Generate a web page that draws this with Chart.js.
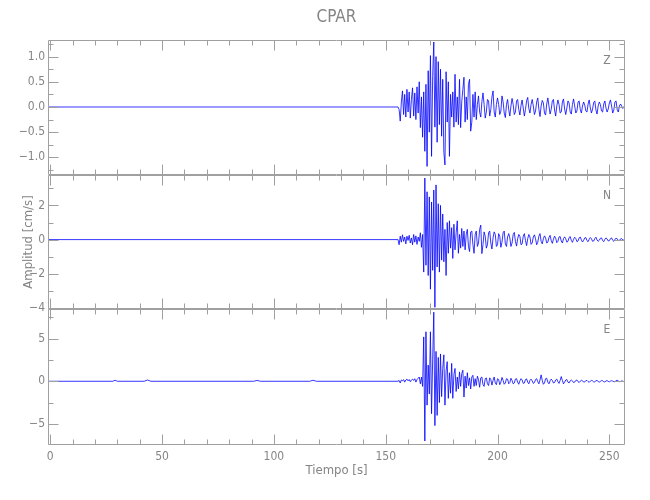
<!DOCTYPE html>
<html>
<head>
<meta charset="utf-8">
<title>CPAR</title>
<script src="https://cdn.jsdelivr.net/npm/chart.js@4.4.1/dist/chart.umd.min.js"></script>
<style>
  html, body { margin: 0; padding: 0; background: #fff; }
  #wrap { position: relative; width: 650px; height: 500px; }
  #wrap canvas { position: absolute; left: 0; top: 0; }
</style>
</head>
<body>
<div id="wrap">
  <canvas id="panel-z" width="650" height="500"></canvas>
  <canvas id="panel-n" width="650" height="500"></canvas>
  <canvas id="panel-e" width="650" height="500"></canvas>
</div>
<script>
// time axis (s)
const X_MIN = -1;
const X_MAX = 257;
const X_MAJOR = [0, 50, 100, 150, 200, 250];
const X_MINOR = [10, 20, 30, 40, 60, 70, 80, 90, 110, 120, 130, 140, 160, 170, 180, 190, 210, 220, 230, 240];

// samples after the onset start at T0, one every DT seconds
const T0 = 155.5;
const DT = 0.5;

// quiet part before the onset
const Z_PRE_T = [-1, 155.5];
const Z_PRE_V = [0, 0];
const N_PRE_T = [-1, 155.5];
const N_PRE_V = [0, 0];
const E_PRE_T = [-1, 28, 29, 30, 42, 43.5, 45, 91, 92.5, 94, 116, 117.5, 119, 155.5];
const E_PRE_V = [0, 0, 0.12, 0, 0, 0.15, 0, 0, 0.1, 0, 0, 0.12, 0, 0];

// vertical component
const Z_VALUES = [
  0, -0.05, -0.28, 0.1, 0.32, -0.15, 0.25, -0.2, 0.35, -0.1,
  0.3, -0.22, 0.15, 0.38, -0.18, 0.28, -0.25, 0.4, -0.12, 0.5,
  -0.41, 0.2, -0.6, 0.3, -0.88, 0.45, -1.18, 0.72, -0.5, 1.02,
  -0.98, 0.6, 1.29, -0.4, 1.0, -0.7, 0.9, -0.35, 0.75, -0.58,
  0.55, -0.9, -1.15, 0.7, -0.3, 0.5, -0.98, 0.25, -0.2, 0.3,
  -0.4, 0.65, -0.3, 0.2, -0.35, 0.55, -0.41, 0.1, 0.35, 0.59,
  -0.3, 0.2, -0.25, 0.45, 0.55, -0.48, -0.3, 0.25, -0.2, 0.3,
  -0.25, 0.05, 0.22, -0.1, -0.2, 0.1, 0.28, 0.05, -0.22, -0.1,
  0.15, 0.12, -0.18, -0.05, 0.2, 0.32, -0.1, -0.2, 0.05, 0.18,
  0.05, -0.15, -0.08, 0.22, 0.1, -0.12, -0.21, 0.05, 0.15, -0.05,
  -0.18, 0.02, 0.17, 0.05, -0.15, -0.1, 0.12, 0.15, -0.05, -0.16,
  0.03, 0.14, -0.02, -0.18, -0.05, 0.12, 0.19, -0.03, -0.12, 0.05,
  0.15, 0.02, -0.15, -0.08, 0.1, 0.18, -0.05, -0.19, 0.02, 0.13,
  0.08, -0.12, -0.16, 0.06, 0.18, 0.02, -0.14, -0.05, 0.12, 0.15,
  -0.06, -0.18, 0.02, 0.14, 0.05, -0.12, -0.1, 0.1, 0.16, -0.04,
  -0.15, -0.02, 0.12, 0.08, -0.1, -0.14, 0.05, 0.16, 0.02, -0.12,
  -0.08, 0.1, 0.12, -0.05, -0.12, 0.02, 0.1, 0.04, -0.08, -0.1,
  0.06, 0.14, -0.02, -0.12, -0.04, 0.09, 0.12, -0.06, -0.14, 0.02,
  0.1, 0.05, -0.08, -0.1, 0.06, 0.12, -0.02, -0.1, -0.04, 0.08,
  0.14, 0.02, -0.12, -0.06, 0.1, 0.12, -0.05, -0.1, 0.02, 0.06,
  0.02, -0.03, 0.01, 0
];

// north component
const N_VALUES = [
  0, -0.3, 0.2, -0.15, 0.28, -0.1, 0.15, -0.25, 0.2, -0.05,
  0.25, -0.2, 0.1, -0.3, 0.3, -0.15, 0.22, -0.28, 0.15, -0.1,
  0.4, -0.45, 0.3, -1.9, 3.6, -1.5, 2.8, -2.1, 2.5, -2.9,
  2.2, -1.8, 2.9, -3.96, 3.2, -1.6, 2.1, -1.9, 2.0, -1.2,
  1.5, -1.3, 0.6, -2.1, 1.0, -0.8, 1.1, -0.5, 0.7, -1.1,
  0.9, -0.6, 0.4, 1.1, -0.8, 0.3, -0.5, 0.65, -0.4, 0.5,
  -0.6, 0.3, 0.6, -0.4, -0.7, 0.45, 0.5, -0.3, -0.8, 0.3,
  0.5, -0.4, -0.2, 0.6, 0.85, -0.82, -0.3, 0.45, 0.2, -0.5,
  -0.3, 0.4, 0.5, -0.2, -0.55, 0.1, 0.45, 0.3, -0.4, -0.3,
  0.35, 0.2, -0.45, -0.15, 0.4, 0.5, -0.25, -0.4, 0.15, 0.35,
  0.1, -0.4, -0.2, 0.3, 0.42, -0.1, -0.38, 0.05, 0.3, 0.2,
  -0.3, -0.25, 0.2, 0.35, -0.05, -0.35, 0.05, 0.3, 0.15, -0.28,
  -0.2, 0.15, 0.28, 0.05, -0.3, -0.15, 0.2, 0.35, -0.1, -0.25,
  0.05, 0.22, 0.1, -0.2, -0.15, 0.12, 0.25, -0.05, -0.22, 0.02,
  0.2, 0.08, -0.18, -0.1, 0.15, 0.18, -0.08, -0.2, 0.05, 0.16,
  0.05, -0.15, -0.1, 0.12, 0.18, -0.05, -0.16, 0.02, 0.14, 0.06,
  -0.12, -0.08, 0.1, 0.15, -0.02, -0.14, -0.04, 0.1, 0.12, -0.06,
  -0.12, 0.02, 0.12, 0.05, -0.1, -0.08, 0.06, 0.14, -0.02, -0.1,
  -0.04, 0.08, 0.1, -0.06, -0.12, 0.02, 0.1, 0.04, -0.08, -0.06,
  0.06, 0.1, -0.04, -0.1, 0.02, 0.08, 0.05, -0.06, -0.05, 0.04,
  0.06, -0.02, -0.03, 0
];

// east component
const E_VALUES = [
  0, 0.1, -0.2, 0.15, 0.05, 0.2, -0.1, 0.15, 0.25, 0.05,
  0.2, -0.05, 0.15, 0.25, 0.1, 0.3, -0.1, 0.2, 0.35, 0.5,
  -0.3, 0.5, -0.6, 5.2, -7.0, 5.8, -2.8, 1.9, -1.5, 5.8,
  -3.8, 2.5, 8.1, -5.2, 3.5, -4.0, 2.8, -2.5, 3.2, -1.8,
  1.5, 3.1, -2.8, 1.2, 2.3, -2.0, 1.0, -1.4, 2.1, -2.0,
  0.8, 1.5, -1.2, 0.5, -0.9, 1.1, -0.6, 0.9, 1.3, -1.85,
  0.6, -0.8, 1.0, -0.5, 0.4, -0.9, 0.5, 0.7, -0.6, 0.3,
  -0.5, 0.6, 0.2, -0.7, 0.4, 0.5, -0.4, -0.6, 0.3, 0.4,
  -0.3, -0.5, 0.4, 0.2, -0.45, 0.1, 0.5, -0.2, -0.4, 0.3,
  0.2, -0.4, -0.1, 0.45, 0.1, -0.35, -0.2, 0.3, 0.25, -0.3,
  -0.15, 0.35, 0.1, -0.3, -0.2, 0.25, 0.3, -0.1, -0.35, 0.05,
  0.3, 0.15, -0.25, -0.2, 0.2, 0.28, -0.1, -0.3, 0.1, 0.25,
  0.05, -0.25, -0.15, 0.2, 0.3, -0.05, -0.3, 0.15, 0.75, 0.1,
  -0.35, -0.2, 0.3, 0.35, -0.1, -0.3, 0.05, 0.25, 0.1, -0.2,
  -0.15, 0.15, 0.25, -0.05, -0.25, 0.1, 0.55, 0.1, -0.3, -0.1,
  0.15, 0.2, -0.1, -0.2, 0.05, 0.15, 0.05, -0.15, -0.1, 0.1,
  0.15, -0.05, -0.15, 0.02, 0.12, 0.06, -0.1, -0.08, 0.08, 0.1,
  -0.04, -0.12, 0.02, 0.1, 0.05, -0.08, -0.06, 0.06, 0.1, -0.02,
  -0.1, -0.02, 0.08, 0.06, -0.06, -0.08, 0.04, 0.08, -0.02, -0.06,
  0.02, 0.06, 0.03, -0.05, -0.04, 0.05, 0.15, 0.02, -0.05, -0.02,
  0.04, 0.02, -0.03, 0
];

// y ranges and ticks per panel
const Z_RANGE = [-1.35, 1.33];
const Z_MAJOR = [-1.0, -0.5, 0, 0.5, 1.0];
const Z_MINOR = [-1.25, -0.75, -0.25, 0.25, 0.75, 1.25];
const N_RANGE = [-4.06, 3.78];
const N_MAJOR = [-4, -2, 0, 2];
const N_MINOR = [-3, -1, 1, 3];
const E_RANGE = [-7.47, 8.47];
const E_MAJOR = [-5, 0, 5];
const E_MINOR = [-2.5, 2.5, 7.5];

const AXIS = '#a0a0a0';
const TEXT = '#858585';
const TRACE = '#0000ff';
const FONT = "'Liberation Sans Narrow', 'DejaVu Sans Condensed', sans-serif";

const minus = (s) => s.replace('-', '\u2212');

// box with inward ticks on all four sides, the component letter and,
// on the top panel, the station name centred over the plot
const framePlugin = {
  id: 'frame',
  afterDatasetsDraw(chart, args, o) {
    const { ctx, chartArea: a, scales: { x, y } } = chart;
    const L = Math.round(a.left) + 0.5, R = Math.round(a.right) - 0.5;
    const T = Math.round(a.top) + 0.5, B = Math.round(a.bottom) - 0.5;
    ctx.save();
    ctx.strokeStyle = AXIS;
    ctx.lineWidth = 1;
    ctx.beginPath();
    ctx.rect(L, T, R - L, B - T);
    const xt = (v, len) => {
      const px = Math.round(x.getPixelForValue(v)) + 0.5;
      ctx.moveTo(px, B); ctx.lineTo(px, B - len);
      ctx.moveTo(px, T); ctx.lineTo(px, T + len);
    };
    const yt = (v, len) => {
      const py = Math.round(y.getPixelForValue(v)) + 0.5;
      ctx.moveTo(L, py); ctx.lineTo(L + len, py);
      ctx.moveTo(R, py); ctx.lineTo(R - len, py);
    };
    X_MAJOR.forEach((v) => xt(v, 10));
    X_MINOR.forEach((v) => xt(v, 5));
    o.major.forEach((v) => yt(v, 10));
    o.minor.forEach((v) => yt(v, 5));
    ctx.stroke();
    ctx.fillStyle = TEXT;
    ctx.textAlign = 'center';
    ctx.textBaseline = 'middle';
    ctx.font = `12px ${FONT}`;
    ctx.fillText(o.label, a.right - 18, a.top + 21);
    if (o.title) {
      ctx.font = `17px ${FONT}`;
      ctx.fillText(o.title, (a.left + a.right) / 2, 18);
    }
    ctx.restore();
  },
};

function makePanel(id, p) {
  const points = p.preT.map((t, i) => ({ x: t, y: p.preV[i] }))
    .concat(p.values.map((v, i) => ({ x: T0 + i * DT, y: v })));

  return new Chart(document.getElementById(id), {
    type: 'line',
    data: {
      datasets: [{
        data: points,
        borderColor: TRACE,
        borderWidth: 0.8,
        pointRadius: 0,
        tension: 0,
      }],
    },
    options: {
      responsive: false,
      animation: false,
      layout: { padding: { left: 0, right: 25, top: p.padTop, bottom: p.padBottom } },
      plugins: {
        legend: { display: false },
        tooltip: { enabled: false },
        title: { display: false },
        frame: { label: p.label, title: p.title, major: p.major, minor: p.minor },
      },
      scales: {
        x: {
          type: 'linear',
          min: X_MIN,
          max: X_MAX,
          display: p.showX,
          afterBuildTicks: (ax) => { ax.ticks = X_MAJOR.map((v) => ({ value: v })); },
          afterFit: (s) => { s.height = p.showX ? 55 : 0; },
          grid: { display: false, drawTicks: false },
          border: { display: false },
          ticks: { color: TEXT, font: { family: FONT, size: 12 }, padding: 5, maxRotation: 0, autoSkip: false },
          title: { display: true, text: 'Tiempo [s]', color: TEXT, font: { family: FONT, size: 13 }, padding: { top: 0, bottom: 22 } },
        },
        y: {
          type: 'linear',
          min: p.range[0],
          max: p.range[1],
          afterBuildTicks: (ax) => { ax.ticks = p.major.map((v) => ({ value: v })); },
          afterFit: (s) => { s.width = 48; },
          grid: { display: false, drawTicks: false },
          border: { display: false },
          ticks: {
            color: TEXT,
            font: { family: FONT, size: 12 },
            padding: 3,
            autoSkip: false,
            callback: (v) => minus(p.fmt(v)),
          },
          title: p.yTitle
            ? { display: true, text: p.yTitle, color: TEXT, font: { family: FONT, size: 13 }, padding: { top: 21, bottom: 0 } }
            : { display: false },
        },
      },
    },
    plugins: [framePlugin],
  });
}

makePanel('panel-z', {
  title: 'CPAR', label: 'Z', preT: Z_PRE_T, preV: Z_PRE_V, values: Z_VALUES,
  range: Z_RANGE, major: Z_MAJOR, minor: Z_MINOR, fmt: (v) => v.toFixed(1),
  padTop: 40, padBottom: 325, showX: false,
});
makePanel('panel-n', {
  label: 'N', preT: N_PRE_T, preV: N_PRE_V, values: N_VALUES, yTitle: 'Amplitud [cm/s]',
  range: N_RANGE, major: N_MAJOR, minor: N_MINOR, fmt: (v) => String(v),
  padTop: 175, padBottom: 191, showX: false,
});
makePanel('panel-e', {
  label: 'E', preT: E_PRE_T, preV: E_PRE_V, values: E_VALUES,
  range: E_RANGE, major: E_MAJOR, minor: E_MINOR, fmt: (v) => String(v),
  padTop: 309, padBottom: 0, showX: true,
});
</script>
</body>
</html>
